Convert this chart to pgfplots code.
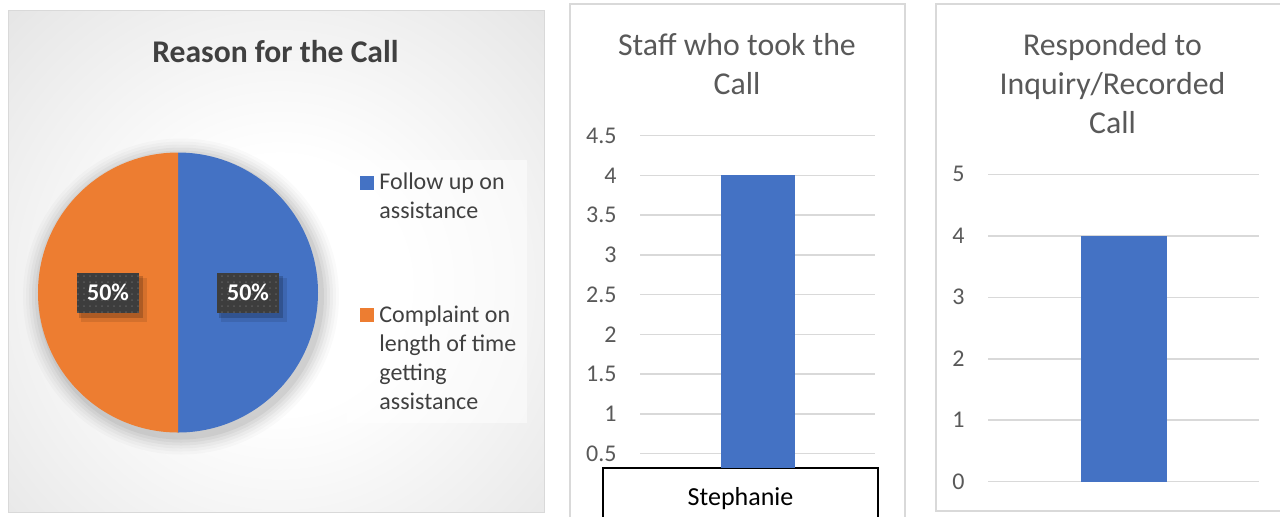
\documentclass[border=0pt]{standalone}
\usepackage{pgfplots}
\pgfplotsset{compat=1.18}
\usepackage{pgfplotstable}
\usepackage{fontspec}
\setmainfont{Carlito}
\usetikzlibrary{patterns}

\definecolor{cblue}{HTML}{4472C4}
\definecolor{corange}{HTML}{ED7D31}
\definecolor{gridgray}{HTML}{D9D9D9}
\definecolor{tickgray}{HTML}{595959}
\definecolor{darkgray}{HTML}{404040}
\definecolor{panelin}{HTML}{E9E9E9}
\definecolor{panelmid}{HTML}{D4D4D4}
\definecolor{paneledge}{HTML}{C0C0C0}
\definecolor{labelbox}{HTML}{3D3D3D}
\definecolor{labeldot}{HTML}{5A5A5A}

\pgfdeclareradialshading{panelglow}{\pgfpoint{0bp}{0bp}}{color(0bp)=(white); color(8bp)=(white); color(22bp)=(panelin); color(34bp)=(panelmid); color(48bp)=(paneledge); color(50bp)=(paneledge)}

\newcommand\tickfont{\fontsize{12}{14.4}\selectfont}
\newcommand\titlefont{\fontsize{15.9}{19}\selectfont}

\pgfplotstableread{
reason value
Follow 50
Complaint 50
}\piedata
\pgfplotstableread{
x calls
0 4
}\staffdata
\pgfplotstableread{
x responded
0 4
}\respdata

\pgfplotstablegetelem{0}{value}\of\piedata \let\va\pgfplotsretval
\pgfplotstablegetelem{1}{value}\of\piedata \let\vb\pgfplotsretval
\pgfmathsetmacro{\fA}{\va/(\va+\vb)}
\pgfmathsetmacro{\fB}{\vb/(\va+\vb)}
\pgfmathsetmacro{\aA}{360*\fA}
\pgfmathsetmacro{\aB}{360*\fB}
\pgfmathsetmacro{\sB}{90-\aA}
\pgfmathsetmacro{\mA}{90-\aA/2}
\pgfmathsetmacro{\mB}{90-\aA-\aB/2}
\pgfmathtruncatemacro{\pA}{round(100*\fA)}
\pgfmathtruncatemacro{\pB}{round(100*\fB)}
\pgfmathsetmacro{\xA}{0.5*cos(\mA)}
\pgfmathsetmacro{\yA}{0.5*sin(\mA)}
\pgfmathsetmacro{\xB}{0.5*cos(\mB)}
\pgfmathsetmacro{\yB}{0.5*sin(\mB)}
\pgfmathsetmacro{\cB}{cos(\sB)}
\pgfmathsetmacro{\dB}{sin(\sB)}

\newcommand\pielabel[3]{%
  \fill[black, opacity=0.10] ([shift={(3pt,-3.5pt)}]axis cs:#1,#2) +(-16.5pt,-11pt) rectangle +(16.5pt,11pt);
  \fill[black, opacity=0.18] ([shift={(1.5pt,-2pt)}]axis cs:#1,#2) +(-16pt,-10.5pt) rectangle +(16pt,10.5pt);
  \node[fill=labelbox, minimum width=31pt, minimum height=20pt, inner sep=0pt] at (axis cs:#1,#2) {};
  \node[pattern=dots, pattern color=labeldot, minimum width=31pt, minimum height=20pt, inner sep=0pt] at (axis cs:#1,#2) {};
  \node[text=white, font=\tickfont\bfseries, inner sep=0pt] at (axis cs:#1,#2) {#3\%};
}

\pgfplotsset{
  barpanel/.style={
    scale only axis, anchor=south west,
    xmin=-1, xmax=1,
    axis line style={draw=none},
    major tick length=0pt,
    ymajorgrids, grid style={gridgray, line width=0.75pt},
    ybar,
    /pgf/number format/assume math mode=true,
    yticklabel style={font=\tickfont, text=tickgray, anchor=east, inner sep=0pt, xshift=-11.5pt},
  }
}

\begin{document}
\begin{tikzpicture}
\useasboundingbox (0pt,0pt) rectangle (640pt,-258pt);
\clip (0pt,0pt) rectangle (640pt,-258pt);

\begin{scope}[x=0.5pt, y=-0.5pt]
  % pie panel background
  \begin{scope}
    \clip (8,10) rectangle (544,512);
    \fill[paneledge] (8,10) rectangle (544,512);
    \shade[shading=panelglow] (280,285) circle[radius=200pt];
  \end{scope}
  \draw[gridgray, line width=0.4pt] (8,10) rectangle (544,512);
  % middle and right panel frames
  \fill[white] (570,4) rectangle (905,530);
  \draw[gridgray, line width=0.75pt] (570,4) rectangle (905,530);
  \fill[white] (936,4) rectangle (1300,511);
  \draw[gridgray, line width=0.75pt] (936,4) rectangle (1300,511);
  % titles
  \node[anchor=base, inner sep=0pt, text=darkgray, font=\fontsize{15.8}{19}\selectfont\bfseries] at (275.5,62.3) {Reason for the Call};
  \node[anchor=base, inner sep=0pt, text=tickgray, font=\titlefont] at (737,55) {Staff who took the};
  \node[anchor=base, inner sep=0pt, text=tickgray, font=\titlefont] at (737,94) {Call};
  \node[anchor=base, inner sep=0pt, text=tickgray, font=\titlefont] at (1112.5,55) {Responded to};
  \node[anchor=base, inner sep=0pt, text=tickgray, font=\titlefont] at (1112.5,94) {Inquiry/Recorded};
  \node[anchor=base, inner sep=0pt, text=tickgray, font=\titlefont] at (1112.5,133) {Call};
  % legend
  \fill[white, opacity=0.5] (347,160) rectangle (527,423);
  \fill[cblue] (360,176) rectangle (374,190);
  \fill[corange] (360,308) rectangle (374,322);
  \begin{scope}[every node/.style={anchor=base west, inner sep=0pt, text=darkgray, font=\tickfont}]
    \node at (379,189) {Follow up on};
    \node at (379,218) {assistance};
    \node at (379,322) {Complaint on};
    \node at (379,351) {length of time};
    \node at (379,380) {getting};
    \node at (379,409) {assistance};
  \end{scope}
\end{scope}

% pie
\begin{axis}[at={(89pt,-146.25pt)}, anchor=center, scale only axis,
  width=140pt, height=140pt, xmin=-1, xmax=1, ymin=-1, ymax=1,
  hide axis, clip=false]
  \fill[black, opacity=0.018] ([shift={(1.5pt,-2pt)}]axis cs:0,0) circle[radius=79pt];
  \fill[black, opacity=0.022] ([shift={(1.5pt,-2pt)}]axis cs:0,0) circle[radius=77.5pt];
  \fill[black, opacity=0.028] ([shift={(1.5pt,-2pt)}]axis cs:0,0) circle[radius=76pt];
  \fill[black, opacity=0.034] ([shift={(1.5pt,-2pt)}]axis cs:0,0) circle[radius=74.5pt];
  \fill[black, opacity=0.04] ([shift={(1.5pt,-2pt)}]axis cs:0,0) circle[radius=73pt];
  \fill[black, opacity=0.05] ([shift={(1.5pt,-2pt)}]axis cs:0,0) circle[radius=71.5pt];
  \fill[cblue] (axis cs:0,0) -- (axis cs:0,1) arc[start angle=90, delta angle=-\aA, radius=70pt] -- cycle;
  \fill[corange] (axis cs:0,0) -- (axis cs:\cB,\dB) arc[start angle=\sB, delta angle=-\aB, radius=70pt] -- cycle;
  \pielabel{\xA}{\yA}{\pA}
  \pielabel{\xB}{\yB}{\pB}
\end{axis}

% staff bar chart
\begin{axis}[barpanel, at={(320pt,-234pt)},
  width=117.5pt, height=166.15pt,
  ymin=0.32, ymax=4.5,
  ytick={0.5,1,1.5,2,2.5,3,3.5,4,4.5},
  bar width=37pt,
  xtick={0}, xticklabels={Stephanie},
  xticklabel style={font=\fontsize{13}{15}\selectfont, text=black, draw=black, line width=0.75pt, fill=white,
    anchor=north, outer sep=0pt, minimum width=137.5pt, text height=9.5pt, text depth=25pt,
    inner ysep=9pt, xshift=-8.5pt},
  clip=true]
  \addplot[fill=cblue, draw=none] table[x=x, y=calls] {\staffdata};
\end{axis}

% responded bar chart
\begin{axis}[barpanel, at={(494pt,-240.85pt)},
  width=135.5pt, height=153.7pt,
  ymin=0, ymax=5, ytick={0,1,2,3,4,5},
  bar width=43pt, xtick=\empty]
  \addplot[fill=cblue, draw=none] table[x=x, y=responded] {\respdata};
\end{axis}
\end{tikzpicture}
\end{document}
